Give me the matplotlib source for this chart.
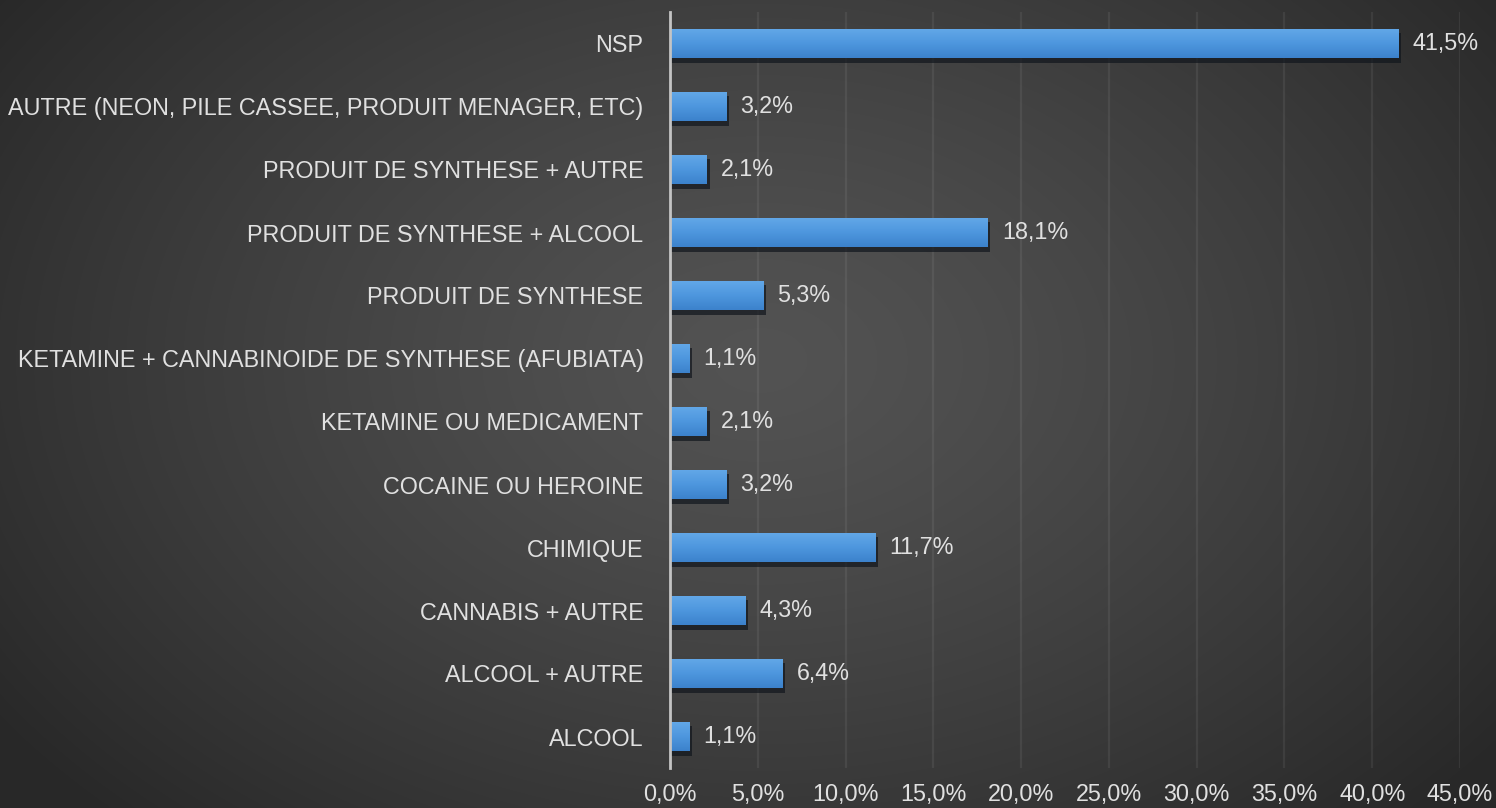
import numpy as np
import matplotlib
matplotlib.use("Agg")
import matplotlib.pyplot as plt
from matplotlib.ticker import FuncFormatter
from matplotlib.colors import LinearSegmentedColormap

categories = [
    "ALCOOL",
    "ALCOOL + AUTRE",
    "CANNABIS + AUTRE",
    "CHIMIQUE",
    "COCAINE OU HEROINE",
    "KETAMINE OU MEDICAMENT",
    "KETAMINE + CANNABINOIDE DE SYNTHESE (AFUBIATA)",
    "PRODUIT DE SYNTHESE",
    "PRODUIT DE SYNTHESE + ALCOOL",
    "PRODUIT DE SYNTHESE + AUTRE",
    "AUTRE (NEON, PILE CASSEE, PRODUIT MENAGER, ETC)",
    "NSP",
]
values = [1.1, 6.4, 4.3, 11.7, 3.2, 2.1, 1.1, 5.3, 18.1, 2.1, 3.2, 41.5]
x_ticks = [0, 5, 10, 15, 20, 25, 30, 35, 40, 45]

plt.rcParams["font.family"] = ["Liberation Sans", "DejaVu Sans"]
text_color = "#e0e0e0"
fsize = 16.8

fig = plt.figure(figsize=(14.96, 8.08), dpi=100)

# radial dark-gray backdrop
bg = fig.add_axes([0, 0, 1, 1], zorder=-10)
yy, xx = np.mgrid[0:808, 0:1496]
r = np.sqrt(((xx - 760) / 900.0) ** 2 + ((yy - 360) / 620.0) ** 2)
shade = np.clip(0.325 - 0.16 * r ** 1.3, 0.16, 0.33)
bg.imshow(np.dstack([shade, shade, shade]), aspect="auto", extent=[0, 1, 0, 1])
bg.set_axis_off()

ax = fig.add_axes([670 / 1496, 40 / 808, 790 / 1496, 756 / 808])
ax.patch.set_alpha(0)

y = np.arange(len(categories))
h = 0.47
# drop shadow under each bar
ax.barh(y - 0.07, [v + 0.1 for v in values], height=h, left=0.05,
        color="#11161d", alpha=0.7, linewidth=0, zorder=2)
bars = ax.barh(y, values, height=h, color="#4a92da", edgecolor="none",
               linewidth=0, zorder=3)

# vertical blue gradient inside each bar
bar_cmap = LinearSegmentedColormap.from_list("bar", ["#3c82cc", "#4e97de", "#63a8e8"])
grad = np.linspace(0, 1, 64).reshape(-1, 1)
for rect in bars:
    x0, y0 = rect.get_x(), rect.get_y()
    im = ax.imshow(grad, cmap=bar_cmap, aspect="auto", origin="lower",
                   extent=[x0, x0 + rect.get_width(), y0, y0 + rect.get_height()],
                   zorder=4, interpolation="bilinear")
    im.set_clip_path(rect)

for yi, v in zip(y, values):
    ax.text(v + 0.8, yi, f"{v:.1f}%".replace(".", ","), va="center", ha="left",
            color=text_color, fontsize=fsize, zorder=5)

ax.set_xlim(0, 45)
ax.set_ylim(-0.5, len(categories) - 0.5)
ax.set_xticks(x_ticks)
ax.xaxis.set_major_formatter(FuncFormatter(lambda v, p: f"{v:.1f}%".replace(".", ",")))
ax.set_yticks(y)
ax.set_yticklabels(categories)
ax.tick_params(axis="both", length=0, colors=text_color, labelsize=fsize)
ax.tick_params(axis="y", pad=19)
ax.tick_params(axis="x", pad=11)
ax.grid(axis="x", color="white", alpha=0.065, linewidth=1.6, zorder=0)
ax.set_axisbelow(True)
for s in ["top", "right", "bottom"]:
    ax.spines[s].set_visible(False)
ax.spines["left"].set_color("#c4c4c4")
ax.spines["left"].set_linewidth(2)
ax.spines["left"].set_zorder(6)

fig.savefig("out.png", dpi=100)
